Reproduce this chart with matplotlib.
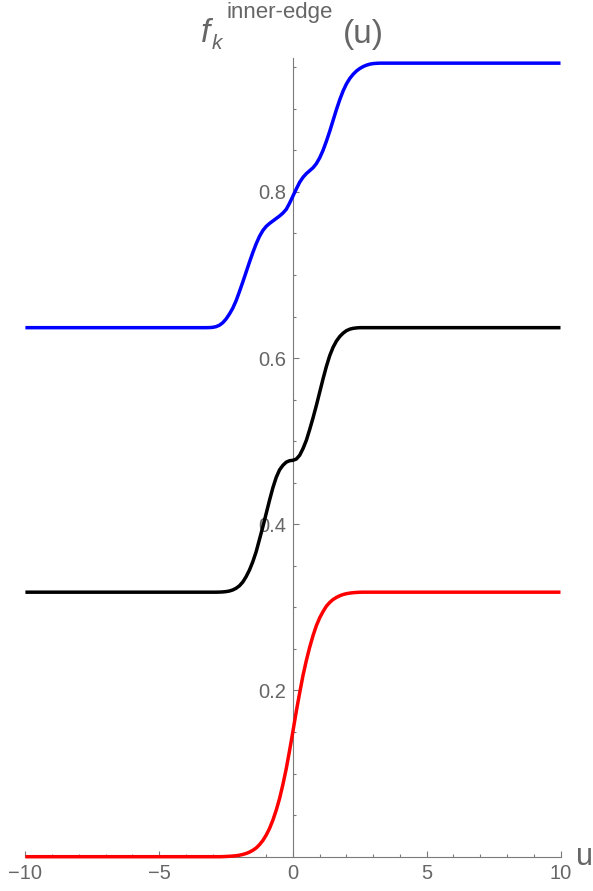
import matplotlib.pyplot as plt
from matplotlib.ticker import FixedLocator, MultipleLocator

plt.rcParams['font.family'] = ['Liberation Sans', 'DejaVu Sans']

GRAY = '#666666'
AXIS_GRAY = '#7a7a7a'

# sample points of the three profiles f_k(u)
u = [-10,
     -3.25, -3.125, -3.0, -2.875, -2.75, -2.625, -2.5, -2.375, -2.25, -2.125,
     -2.0, -1.875, -1.75, -1.625, -1.5, -1.375, -1.25, -1.125, -1.0, -0.875,
     -0.75, -0.625, -0.5, -0.375, -0.25, -0.125, 0.0, 0.125, 0.25, 0.375,
     0.5, 0.625, 0.75, 0.875, 1.0, 1.125, 1.25, 1.375, 1.5, 1.625,
     1.75, 1.875, 2.0, 2.125, 2.25, 2.375, 2.5, 2.625, 2.75, 2.875,
     3.0, 3.125, 3.25,
     10]
f_red = [0,
         0, 0, 0, 0, 0, 0.0001, 0.0003, 0.0005, 0.0008, 0.0012,
         0.0018, 0.0027, 0.0039, 0.0055, 0.0077, 0.0105, 0.0145, 0.0195, 0.026, 0.034,
         0.044, 0.056, 0.070, 0.087, 0.106, 0.128, 0.151, 0.175, 0.197, 0.218,
         0.236, 0.252, 0.266, 0.278, 0.2875, 0.295, 0.3015, 0.306, 0.3095, 0.312,
         0.314, 0.3155, 0.3165, 0.3172, 0.3177, 0.318, 0.3182, 0.3183, 0.3183, 0.3183,
         0.3183, 0.3183, 0.3183,
         0.3183]
f_black = [0.3183,
           0.3183, 0.3183, 0.3183, 0.3183, 0.3184, 0.3186, 0.319, 0.3197, 0.321, 0.323,
           0.326, 0.3305, 0.337, 0.345, 0.355, 0.367, 0.382, 0.397, 0.413, 0.429,
           0.444, 0.4565, 0.4655, 0.471, 0.4748, 0.4765, 0.477, 0.4785, 0.483, 0.491,
           0.501, 0.514, 0.528, 0.543, 0.559, 0.575, 0.590, 0.603, 0.613, 0.6205,
           0.626, 0.630, 0.633, 0.6348, 0.6358, 0.6363, 0.6366, 0.6366, 0.6366, 0.6366,
           0.6366, 0.6366, 0.6366,
           0.6366]
f_blue = [0.6366,
          0.6366, 0.6367, 0.637, 0.6378, 0.6395, 0.6425, 0.647, 0.653, 0.660, 0.669,
          0.680, 0.6915, 0.7035, 0.7155, 0.727, 0.7375, 0.7465, 0.7535, 0.7585, 0.762,
          0.765, 0.768, 0.771, 0.7745, 0.779, 0.7865, 0.795, 0.8035, 0.8115, 0.8175,
          0.822, 0.8255, 0.829, 0.834, 0.841, 0.850, 0.861, 0.873, 0.886, 0.899,
          0.911, 0.9215, 0.930, 0.9365, 0.9415, 0.9455, 0.9485, 0.9508, 0.9525, 0.9537,
          0.9544, 0.9547, 0.9549,
          0.9549]

x_ticks = [-10, -5, 0, 5, 10]
x_ticklabels = ['\u221210', '\u22125', '0', '5', '10']
y_ticks = [0.2, 0.4, 0.6, 0.8]
y_ticklabels = ['0.2', '0.4', '0.6', '0.8']
y_minor = [0.05, 0.1, 0.15, 0.25, 0.3, 0.35, 0.45, 0.5, 0.55, 0.65, 0.7,
           0.75, 0.85, 0.9, 0.95]

W, H = 593, 891
fig = plt.figure(figsize=(W / 100, H / 100), dpi=100)
ax = fig.add_axes([25.4 / W, (H - 856.7) / H, (560.5 - 25.4) / W, (856.7 - 57.5) / H])

for vals, col in [(f_red, 'red'), (f_black, 'black'), (f_blue, 'blue')]:
    ax.plot(u, vals, color=col, lw=2.5, clip_on=False, zorder=3,
            solid_capstyle='butt', solid_joinstyle='round')

ax.set_xlim(-10, 10)
ax.set_ylim(0, 0.9617)

# axes crossing at the origin
for s in ['top', 'right']:
    ax.spines[s].set_visible(False)
ax.spines['left'].set_position(('data', 0))
for s in ['left', 'bottom']:
    ax.spines[s].set_color(AXIS_GRAY)
    ax.spines[s].set_linewidth(0.8)
    ax.spines[s].set_zorder(1)

ax.xaxis.set_major_locator(FixedLocator(x_ticks))
ax.set_xticklabels(x_ticklabels)
ax.xaxis.set_minor_locator(MultipleLocator(1))
ax.yaxis.set_major_locator(FixedLocator(y_ticks))
ax.set_yticklabels(y_ticklabels)
ax.yaxis.set_minor_locator(FixedLocator(y_minor))

ax.tick_params(which='both', direction='in', color=AXIS_GRAY, width=0.8,
               labelcolor=GRAY, labelsize=14.5)
ax.tick_params(which='major', length=4.5)
ax.tick_params(which='minor', length=2.4)
ax.tick_params(axis='x', pad=5)
ax.tick_params(axis='y', pad=5)

# axis labels
def px(x, y):
    return x / W, 1 - y / H

fig.text(*px(576, 865), 'u', fontsize=22, color=GRAY, va='baseline')
fig.text(*px(201, 42), 'f', fontsize=24, color=GRAY, style='italic',
         va='baseline')
fig.text(*px(212, 49), 'k', fontsize=15, color=GRAY, style='italic',
         va='baseline')
fig.text(*px(227, 18), 'inner-edge', fontsize=16, color=GRAY,
         va='baseline')
fig.text(*px(343, 43), '(u)', fontsize=24, color=GRAY, va='baseline')

fig.savefig('out.png', dpi=100)
